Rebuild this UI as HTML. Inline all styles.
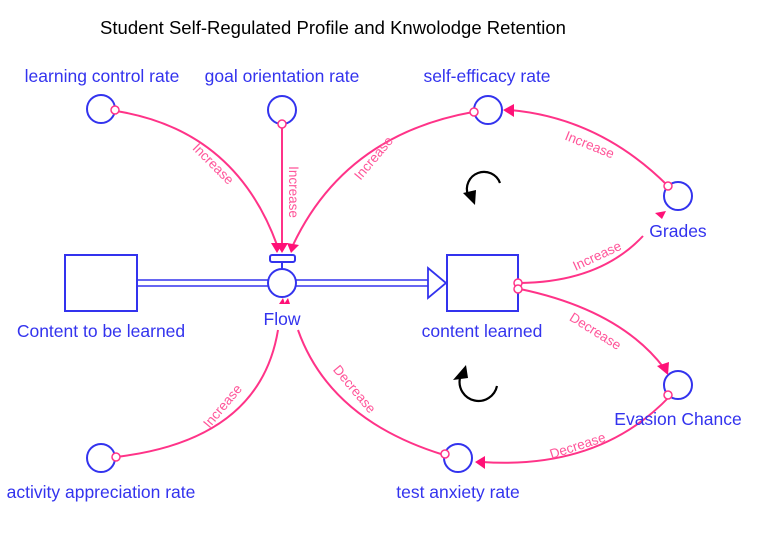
<!DOCTYPE html>
<html><head><meta charset="utf-8"><style>
html,body{margin:0;padding:0;background:#fff;}
svg{display:block;font-family:"Liberation Sans",sans-serif;}
.lb{fill:#3333ee;font-size:17.5px;text-anchor:middle;}
.pk{fill:#ff5599;font-size:13.5px;text-anchor:middle;}
.c{fill:none;stroke:#3333ee;stroke-width:2;}
.l{fill:none;stroke:#ff3388;stroke-width:2;}
.d{fill:#fff;stroke:#ff3388;stroke-width:1.5;}
.a{fill:#ff1177;}
</style></head><body>
<svg width="768" height="540" viewBox="0 0 768 540">
<text x="333" y="34" font-size="18.5" text-anchor="middle" fill="#000">Student Self-Regulated Profile and Knwolodge Retention</text>

<rect x="65" y="255" width="72" height="56" class="c"/>
<rect x="447" y="255" width="71" height="56" class="c"/>
<line x1="137" y1="280" x2="268" y2="280" stroke="#3333ee" stroke-width="1.5"/>
<line x1="137" y1="286" x2="268" y2="286" stroke="#3333ee" stroke-width="1.5"/>
<line x1="296" y1="280" x2="428" y2="280" stroke="#3333ee" stroke-width="1.5"/>
<line x1="296" y1="286" x2="428" y2="286" stroke="#3333ee" stroke-width="1.5"/>
<polygon points="428,268 446,283 428,298" fill="#fff" stroke="#3333ee" stroke-width="1.8"/>
<circle cx="282" cy="283" r="14" fill="#fff" class="c"/>
<line x1="282" y1="262" x2="282" y2="269" stroke="#3333ee" stroke-width="2"/>
<rect x="270" y="255" width="25" height="7" rx="2" fill="#fff" class="c"/>

<circle cx="101" cy="109" r="14" class="c"/>
<circle cx="282" cy="110" r="14" class="c"/>
<circle cx="488" cy="110" r="14" class="c"/>
<circle cx="678" cy="196" r="14" class="c"/>
<circle cx="678" cy="385" r="14" class="c"/>
<circle cx="458" cy="458" r="14" class="c"/>
<circle cx="101" cy="458" r="14" class="c"/>

<path d="M116,111 Q235,130 277,245" class="l"/>
<polygon points="271,243 283,243 277,253" class="a"/>
<line x1="282" y1="124" x2="282" y2="245" class="l"/>
<polygon points="276,243 288,243 282,253" class="a"/>
<path d="M473,112 Q345,135 293,245" class="l"/>
<polygon points="287,243 299,245 291,253" class="a"/>
<path d="M668,186 Q600,118 510,110" class="l"/>
<polygon points="514,104 514,117 503,110" class="a"/>
<path d="M520,283 Q600,282 643,236" class="l"/>
<polygon points="655,213 666,211 662,219" class="a"/>
<path d="M520,289 Q620,310 664,368" class="l"/>
<polygon points="657,366 669,362 668,375" class="a"/>
<path d="M670,396 Q600,470 482,462" class="l"/>
<polygon points="485,456 485,469 475,462" class="a"/>
<path d="M444,455 Q330,420 298,330" class="l"/>
<path d="M116,457 Q260,440 278,330" class="l"/>
<polygon points="279,304 283,298 285,304" class="a"/>
<polygon points="284,304 288,298 290,304" class="a"/>

<circle cx="115" cy="110" r="4" class="d"/>
<circle cx="282" cy="124" r="4" class="d"/>
<circle cx="474" cy="112" r="4" class="d"/>
<circle cx="668" cy="186" r="4" class="d"/>
<circle cx="518" cy="283" r="4" class="d"/>
<circle cx="518" cy="289" r="4" class="d"/>
<circle cx="668" cy="395" r="4" class="d"/>
<circle cx="445" cy="454" r="4" class="d"/>
<circle cx="116" cy="457" r="4" class="d"/>

<text class="pk" transform="translate(210,167) rotate(45)">Increase</text>
<text class="pk" transform="translate(289,192) rotate(90)">Increase</text>
<text class="pk" transform="translate(377,161) rotate(-50)">Increase</text>
<text class="pk" transform="translate(588,149) rotate(22)">Increase</text>
<text class="pk" transform="translate(599,260) rotate(-25)">Increase</text>
<text class="pk" transform="translate(593,335) rotate(32)">Decrease</text>
<text class="pk" transform="translate(579,450) rotate(-18)">Decrease</text>
<text class="pk" transform="translate(351,392) rotate(50)">Decrease</text>
<text class="pk" transform="translate(226,409) rotate(-50)">Increase</text>

<path d="M500,183 A17,17 0 1 0 468,195" fill="none" stroke="#000" stroke-width="2.2"/>
<polygon points="463,193 476,190 475,205" fill="#000"/>
<path d="M497,386 A18,18 0 1 1 460,378" fill="none" stroke="#000" stroke-width="2.2"/>
<polygon points="453,380 466,365 468,378" fill="#000"/>

<text class="lb" x="102" y="82">learning control rate</text>
<text class="lb" x="282" y="82">goal orientation rate</text>
<text class="lb" x="487" y="82">self-efficacy rate</text>
<text class="lb" x="678" y="237">Grades</text>
<text class="lb" x="678" y="425">Evasion Chance</text>
<text class="lb" x="458" y="498">test anxiety rate</text>
<text class="lb" x="101" y="498">activity appreciation rate</text>
<text class="lb" x="101" y="337">Content to be learned</text>
<text class="lb" x="282" y="325">Flow</text>
<text class="lb" x="482" y="337">content learned</text>
</svg>
</body></html>
